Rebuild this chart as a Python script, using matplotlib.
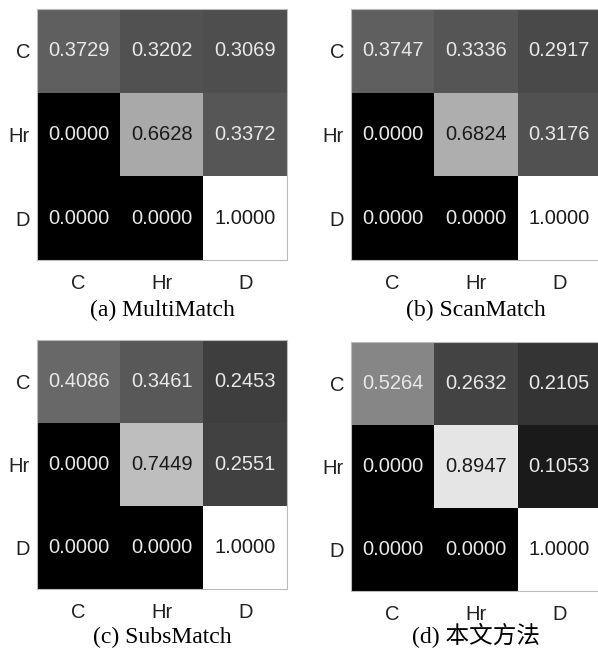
import numpy as np
import matplotlib
matplotlib.use("Agg")
import matplotlib.pyplot as plt

labels = ["C", "Hr", "D"]

multimatch = [[0.3729, 0.3202, 0.3069],
              [0.0000, 0.6628, 0.3372],
              [0.0000, 0.0000, 1.0000]]
scanmatch = [[0.3747, 0.3336, 0.2917],
             [0.0000, 0.6824, 0.3176],
             [0.0000, 0.0000, 1.0000]]
subsmatch = [[0.4086, 0.3461, 0.2453],
             [0.0000, 0.7449, 0.2551],
             [0.0000, 0.0000, 1.0000]]
ours = [[0.5264, 0.2632, 0.2105],
        [0.0000, 0.8947, 0.1053],
        [0.0000, 0.0000, 1.0000]]

captions = ["(a) MultiMatch", "(b) ScanMatch", "(c) SubsMatch", "(d) 本文方法"]
mats = [multimatch, scanmatch, subsmatch, ours]

W, H = 598, 649
# left, top, bottom (pixels), caption y
boxes = [(37, 9, 260, 310),
         (351, 9, 260, 310),
         (37, 340, 589, 637),
         (351, 342, 591, 635)]

fig = plt.figure(figsize=(W / 100, H / 100), dpi=100)

for m, cap, (left, top, bottom, cap_y) in zip(mats, captions, boxes):
    ax = fig.add_axes([left / W, 1 - bottom / H, 250 / W, (bottom - top) / H])
    data = np.array(m)
    ax.imshow(data, cmap="gray", vmin=0, vmax=1, aspect="auto",
              interpolation="nearest")
    for i in range(3):
        for j in range(3):
            v = data[i, j]
            col = "#1a1a1a" if v > 0.6 else "#e8e8e8"
            ax.text(j, i, f"{v:.4f}", ha="center", va="center",
                    fontsize=14.5, color=col, family="Liberation Sans")
    ax.set_xticks(range(3))
    ax.set_yticks(range(3))
    ax.set_xticklabels(labels, fontsize=14.5, family="Liberation Sans", color="#222222")
    ax.set_yticklabels(labels, fontsize=14.5, family="Liberation Sans", color="#222222")
    ax.tick_params(length=0)
    ax.tick_params(axis="x", pad=10)
    ax.tick_params(axis="y", pad=5)
    for s in ax.spines.values():
        s.set_color("#bbbbbb")
        s.set_linewidth(0.8)
    fig.text((left + 125) / W, 1 - cap_y / H, cap, ha="center", va="center",
             fontsize=17, family=["Liberation Serif", "Noto Sans CJK SC"])

fig.savefig("out.png", dpi=100)
